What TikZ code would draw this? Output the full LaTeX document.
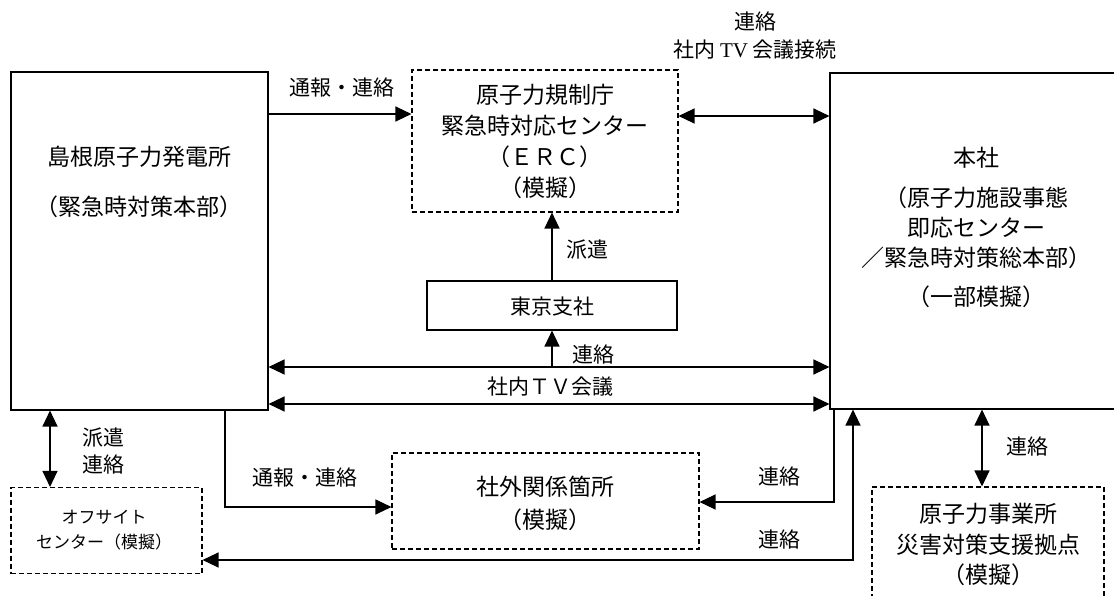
\documentclass[tikz,border=0pt]{standalone}
\usepackage{fontspec}
\setmainfont{Noto Sans CJK JP}
\newfontfamily\latinserif{Liberation Serif}
\usepackage{tikz}
\usetikzlibrary{arrows.meta}

\begin{document}
\begin{tikzpicture}[
  x=1pt, y=-1pt,
  box/.style={draw, line width=1.1pt, inner sep=0pt},
  dbox/.style={box, dashed, dash pattern=on 5pt off 3pt},
  big/.style={font=\fontsize{23}{31}\selectfont, align=center, inner sep=0pt},
  txt/.style={font=\fontsize{21}{31}\selectfont, align=center, inner sep=0pt},
  small/.style={font=\fontsize{17}{25}\selectfont, align=center, inner sep=0pt},
  arr/.style={-{Triangle[length=16pt,width=15pt]}, line width=1.2pt},
  both/.style={{Triangle[length=16pt,width=15pt]}-{Triangle[length=16pt,width=15pt]}, line width=1.2pt},
]
\clip (0,0) rectangle (1114,596);

% Boxes
\node[box,  minimum width=257pt, minimum height=338pt] (plant)   at (139.5, 241) {};
\node[dbox, minimum width=266pt, minimum height=142pt] (erc)     at (545, 141) {};
\node[box,  minimum width=300pt, minimum height=336pt] (honsha)  at (980, 241) {};
\node[box,  minimum width=250pt, minimum height=49pt]  (tokyo)   at (552, 305.5) {};
\node[dbox, minimum width=191pt, minimum height=86pt]  (offsite) at (106.5, 530.5) {};
\node[dbox, minimum width=307pt, minimum height=96pt]  (outside) at (545.5, 501) {};
\node[dbox, minimum width=232pt, minimum height=133pt] (base)    at (988, 553.5) {};

% Box texts
\node[big] (plantT)   at (139, 182) {島根原子力発電所\\[19pt]（緊急時対策本部）};
\node[big] (ercT)     at (545, 141.5) {原子力規制庁\\緊急時対応センター\\（ＥＲＣ）\\（模擬）};
\node[big, font=\fontsize{23}{30}\selectfont] (honshaT) at (976, 227) {本社\\[10pt]（原子力施設事態\\即応センター\\／緊急時対策総本部）\\[9pt]（一部模擬）};
\node[txt] (tokyoT)   at (552, 307) {東京支社};
\node[small] (offsiteT) at (104, 530.5) {オフサイト\\センター（模擬）};
\node[big, font=\fontsize{23}{33}\selectfont] (outsideT) at (545, 503.5) {社外関係箇所\\（模擬）};
\node[big, font=\fontsize{23}{30.5}\selectfont] (baseT) at (988, 544.5) {原子力事業所\\災害対策支援拠点\\（模擬）};

% 1. plant -> ERC
\draw[arr] (plant.east |- 0,114) -- (erc.west |- 0,114);
\node[txt] (lbA) at (342, 88) {通報・連絡};

% 2. ERC <-> honsha
\draw[both] (erc.east |- 0,116) -- (honsha.west |- 0,116);
\node[txt] (lbB) at (755, 22) {連絡};
\node[txt] (lbC) at (755, 50) {社内 {\latinserif TV} 会議接続};

% 3. tokyo -> ERC
\draw[arr] (tokyo.north) -- (tokyo.north |- erc.south);
\node[txt] (lbD) at (587, 250) {派遣};

% 4. plant <-> honsha
\draw[both] (plant.east |- 0,367) -- (honsha.west |- 0,367);
\draw[arr] (tokyo.south |- 0,367) -- (tokyo.south);
\node[txt] (lbE) at (593, 355) {連絡};

% 5. TV conference
\draw[both] (plant.east |- 0,404) -- (honsha.west |- 0,404);
\node[txt] (lbF) at (550, 387) {社内ＴＶ会議};

% 6. plant <-> offsite
\draw[both] (plant.south -| 50,0) -- (offsite.north -| 50,0);
\node[txt] (lbG) at (103, 438) {派遣};
\node[txt] (lbH) at (103, 465) {連絡};

% 7. plant -> outside
\draw[arr] (plant.south -| 225,0) |- (outside.west |- 0,507);
\node[txt] (lbI) at (305, 478) {通報・連絡};

% 8. honsha -> outside
\draw[arr] (honsha.south -| 834,0) |- (outside.east |- 0,502);
\node[txt] (lbJ) at (779, 477) {連絡};

% 9. offsite <-> honsha
\draw[both] (offsite.east |- 0,560) -| (honsha.south -| 853,0);
\node[txt] (lbK) at (779, 540) {連絡};

% 10. honsha <-> base
\draw[both] (honsha.south -| 982,0) -- (base.north -| 982,0);
\node[txt] (lbL) at (1027, 447) {連絡};

\end{tikzpicture}
\end{document}
